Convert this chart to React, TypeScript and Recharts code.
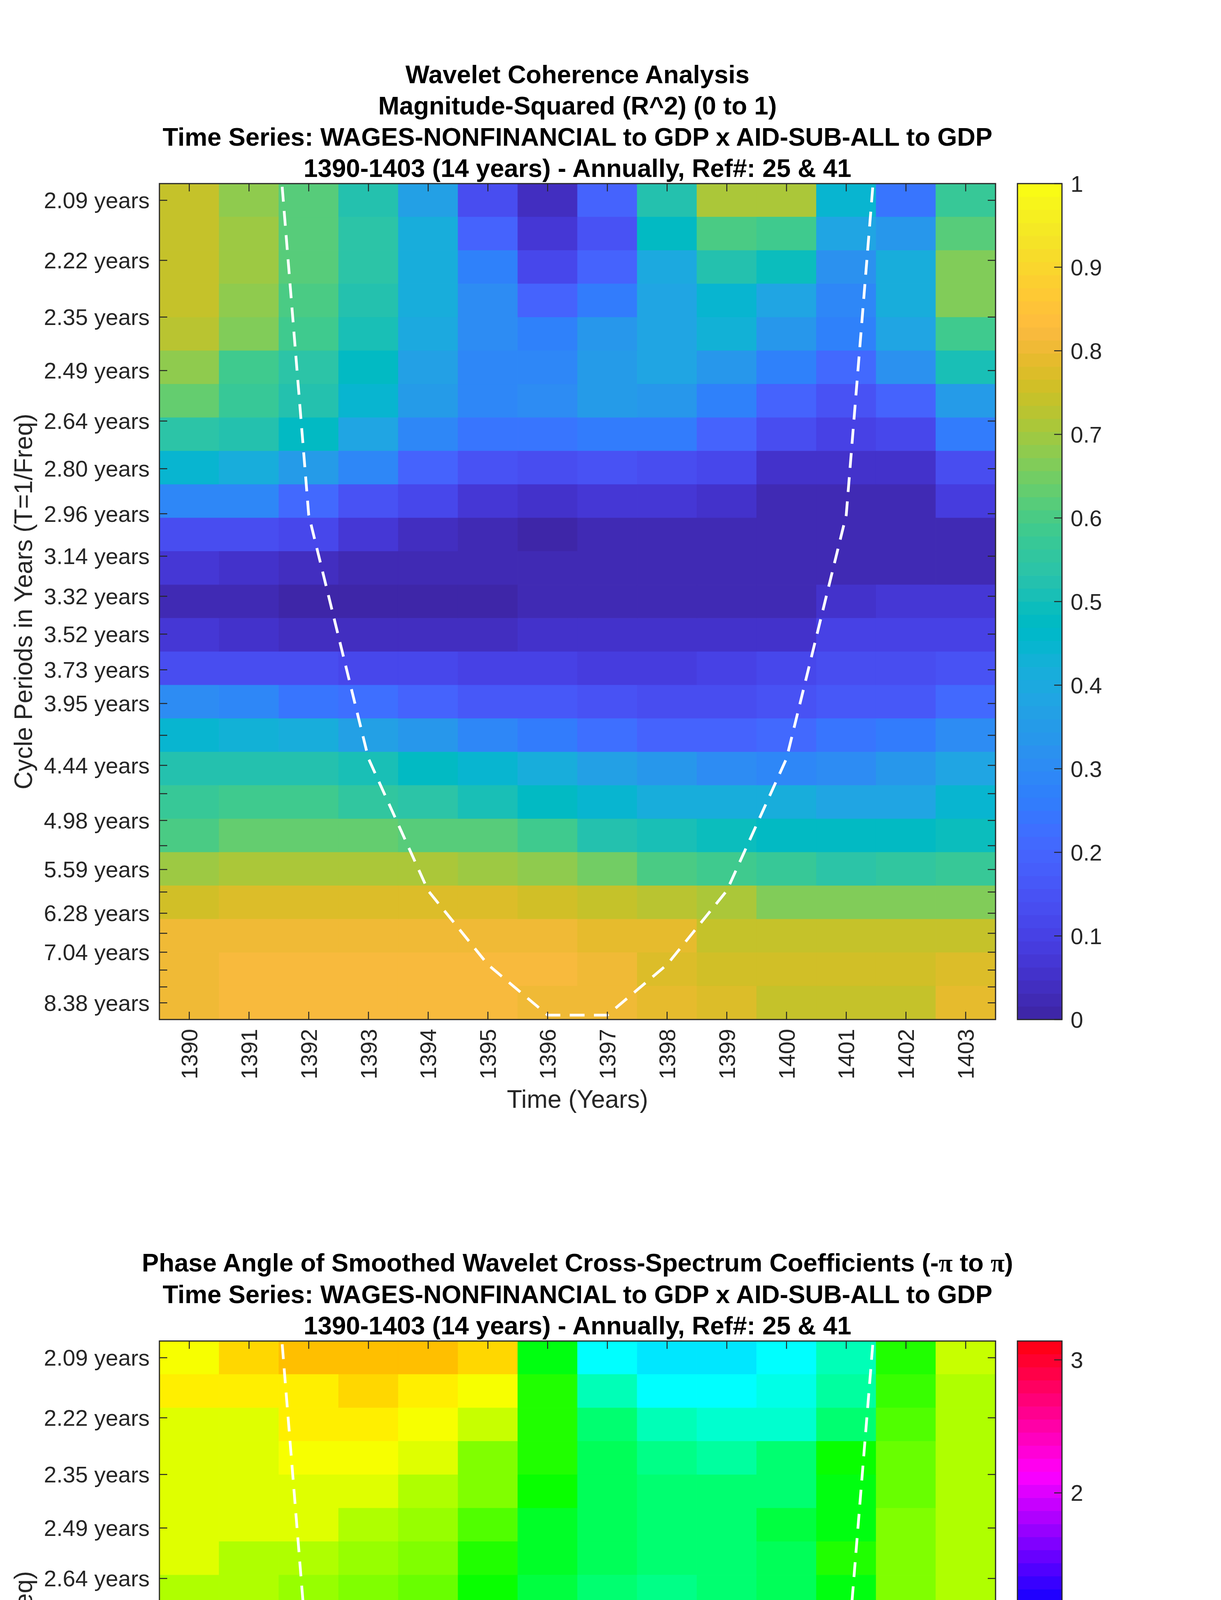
import React from 'react';
import { ComposedChart, XAxis, YAxis, Line, ReferenceArea } from 'recharts';

// ---- data ----
const years = [1390, 1391, 1392, 1393, 1394, 1395, 1396, 1397, 1398, 1399, 1400, 1401, 1402, 1403];

// wavelet scales (periods in years), top row first
const scalePeriods = [
  2.0942, 2.2187, 2.3507, 2.4905, 2.6385, 2.7954, 2.9617, 3.1378, 3.3243, 3.522, 3.7315, 3.9533, 4.1884,
  4.4375, 4.7013, 4.9809, 5.277, 5.5908, 5.9233, 6.2755, 6.6487, 7.0441, 7.4629, 7.9068, 8.3768,
];
const periodLabels = [
  '2.09 years', '2.22 years', '2.35 years', '2.49 years', '2.64 years', '2.80 years', '2.96 years', '3.14 years',
  '3.32 years', '3.52 years', '3.73 years', '3.95 years', '', '4.44 years', '', '4.98 years', '', '5.59 years', '',
  '6.28 years', '', '7.04 years', '', '', '8.38 years',
];

// magnitude-squared coherence, one row per scale (top to bottom), one value per year
const coherence = [
  [0.74, 0.685, 0.61, 0.53, 0.36, 0.14, 0.04, 0.2, 0.52, 0.71, 0.705, 0.44, 0.24, 0.57],
  [0.745, 0.69, 0.62, 0.54, 0.41, 0.2, 0.07, 0.15, 0.47, 0.6, 0.58, 0.38, 0.33, 0.61],
  [0.745, 0.69, 0.62, 0.54, 0.42, 0.27, 0.12, 0.2, 0.4, 0.52, 0.49, 0.32, 0.42, 0.665],
  [0.735, 0.685, 0.6, 0.53, 0.41, 0.3, 0.2, 0.26, 0.39, 0.44, 0.38, 0.29, 0.41, 0.665],
  [0.72, 0.665, 0.59, 0.5, 0.4, 0.3, 0.27, 0.34, 0.38, 0.43, 0.33, 0.27, 0.38, 0.58],
  [0.68, 0.59, 0.54, 0.47, 0.37, 0.29, 0.29, 0.35, 0.38, 0.34, 0.27, 0.21, 0.32, 0.5],
  [0.63, 0.57, 0.52, 0.45, 0.35, 0.29, 0.3, 0.35, 0.33, 0.27, 0.19, 0.15, 0.19, 0.35],
  [0.54, 0.52, 0.48, 0.38, 0.29, 0.24, 0.24, 0.26, 0.25, 0.19, 0.14, 0.1, 0.12, 0.25],
  [0.44, 0.42, 0.35, 0.29, 0.19, 0.15, 0.14, 0.15, 0.14, 0.11, 0.06, 0.05, 0.06, 0.14],
  [0.29, 0.29, 0.21, 0.15, 0.11, 0.07, 0.06, 0.065, 0.065, 0.05, 0.02, 0.02, 0.03, 0.08],
  [0.14, 0.14, 0.11, 0.07, 0.04, 0.03, 0.01, 0.03, 0.02, 0.02, 0.02, 0.02, 0.02, 0.03],
  [0.07, 0.05, 0.04, 0.02, 0.02, 0.02, 0.02, 0.02, 0.02, 0.02, 0.02, 0.03, 0.03, 0.03],
  [0.03, 0.02, 0.01, 0.01, 0.01, 0.01, 0.03, 0.03, 0.03, 0.03, 0.03, 0.05, 0.07, 0.07],
  [0.07, 0.05, 0.04, 0.04, 0.04, 0.04, 0.06, 0.06, 0.06, 0.06, 0.06, 0.1, 0.1, 0.1],
  [0.14, 0.14, 0.13, 0.12, 0.12, 0.1, 0.1, 0.09, 0.09, 0.1, 0.12, 0.13, 0.13, 0.15],
  [0.3, 0.29, 0.24, 0.22, 0.19, 0.17, 0.16, 0.15, 0.14, 0.14, 0.15, 0.16, 0.17, 0.21],
  [0.44, 0.43, 0.41, 0.37, 0.33, 0.29, 0.25, 0.22, 0.2, 0.2, 0.21, 0.24, 0.25, 0.3],
  [0.53, 0.53, 0.52, 0.5, 0.48, 0.45, 0.41, 0.37, 0.33, 0.3, 0.29, 0.3, 0.33, 0.39],
  [0.57, 0.59, 0.58, 0.56, 0.54, 0.51, 0.48, 0.45, 0.42, 0.41, 0.42, 0.39, 0.39, 0.44],
  [0.6, 0.63, 0.63, 0.63, 0.62, 0.61, 0.58, 0.53, 0.51, 0.49, 0.48, 0.48, 0.48, 0.49],
  [0.695, 0.71, 0.71, 0.71, 0.705, 0.695, 0.68, 0.645, 0.605, 0.585, 0.565, 0.54, 0.55, 0.575],
  [0.765, 0.77, 0.77, 0.77, 0.77, 0.77, 0.76, 0.745, 0.72, 0.715, 0.665, 0.665, 0.665, 0.67],
  [0.805, 0.81, 0.81, 0.81, 0.81, 0.805, 0.805, 0.795, 0.785, 0.735, 0.735, 0.735, 0.735, 0.74],
  [0.81, 0.825, 0.825, 0.825, 0.825, 0.815, 0.815, 0.805, 0.775, 0.765, 0.765, 0.75, 0.76, 0.775],
  [0.81, 0.825, 0.825, 0.825, 0.825, 0.815, 0.805, 0.8, 0.79, 0.77, 0.745, 0.745, 0.745, 0.785],
];

// phase angle (radians), same layout
const phase = [
  [-2.06, -2.22, -2.29, -2.29, -2.27, -2.16, -0.9, 0.0, 0.1, 0.1, 0.04, -0.23, -1.17, -1.83],
  [-2.09, -2.11, -2.11, -2.18, -2.08, -1.97, -1.17, -0.26, 0.0, 0.0, -0.09, -0.35, -1.2, -1.76],
  [-1.93, -1.93, -2.09, -2.09, -1.97, -1.78, -1.17, -0.5, -0.23, -0.1, -0.16, -0.56, -1.29, -1.75],
  [-1.95, -1.95, -1.99, -1.99, -1.87, -1.57, -1.15, -0.59, -0.44, -0.35, -0.5, -1.0, -1.42, -1.75],
  [-1.87, -1.87, -1.87, -1.87, -1.71, -1.5, -1.05, -0.64, -0.5, -0.5, -0.56, -0.92, -1.42, -1.75],
  [-1.87, -1.87, -1.87, -1.75, -1.62, -1.29, -0.84, -0.59, -0.56, -0.56, -0.72, -0.96, -1.57, -1.75],
  [-1.87, -1.71, -1.71, -1.62, -1.5, -1.17, -0.84, -0.59, -0.56, -0.56, -0.64, -1.13, -1.5, -1.75],
  [-1.75, -1.71, -1.62, -1.55, -1.38, -1.01, -0.72, -0.5, -0.44, -0.5, -0.64, -0.96, -1.5, -1.71],
  [-1.75, -1.62, -1.62, -1.45, -1.25, -0.96, -0.56, -0.35, -0.26, -0.35, -0.56, -1.17, -1.78, -1.9],
  [-1.75, -1.62, -1.55, -1.45, -1.25, -0.9, -0.35, -0.1, 0.0, -0.1, -0.5, -1.71, -2.08, -1.95],
  [-1.75, -1.62, -1.55, -1.45, -1.17, -0.68, 0.0, 0.38, 0.51, 0.63, 2.93, -2.81, -2.6, -2.36],
  [-2.07, -1.87, -1.78, -1.67, -1.2, 0.59, 1.17, 1.33, 1.54, 2.02, 2.93, 2.98, 3.1, -2.93],
  [-2.69, -2.6, -2.69, 3.09, 2.11, 1.83, 1.83, 1.83, 2.11, 2.6, 2.9, 2.9, 2.99, 2.99],
  [2.8, 2.8, 2.7, 2.4, 2.21, 2.11, 2.11, 2.21, 2.4, 2.5, 2.7, 2.8, 2.8, 2.8],
  [2.6, 2.5, 2.4, 2.31, 2.31, 2.21, 2.21, 2.31, 2.4, 2.5, 2.7, 2.8, 2.8, 2.6],
  [2.5, 2.31, 2.31, 2.31, 2.31, 2.31, 2.31, 2.4, 2.5, 2.6, 2.7, 2.7, 2.7, 2.7],
  [2.5, 2.5, 2.4, 2.4, 2.4, 2.4, 2.4, 2.5, 2.5, 2.6, 2.7, 2.7, 2.7, 2.7],
  [2.6, 2.5, 2.5, 2.5, 2.5, 2.5, 2.5, 2.6, 2.6, 2.6, 2.7, 2.7, 2.7, 2.6],
  [2.6, 2.6, 2.6, 2.6, 2.6, 2.6, 2.6, 2.7, 2.7, 2.7, 2.7, 2.7, 2.7, 2.7],
  [2.8, 2.8, 2.8, 2.8, 2.8, 2.8, 2.8, 2.8, 2.9, 2.9, 2.9, 2.9, 2.8, 2.8],
  [2.9, 2.8, 2.8, 2.8, 2.9, 2.9, 2.9, 2.9, 2.9, 2.9, 2.9, 2.9, 2.9, 2.8],
  [2.9, 2.9, 2.9, 2.9, 2.9, 2.99, 2.99, 2.99, 2.99, 2.99, 2.99, 2.99, 2.9, 2.9],
  [2.99, 2.99, 2.99, 2.99, 2.99, 2.99, 2.99, 2.99, 2.99, 2.99, 2.99, 2.99, 2.99, 2.99],
  [2.99, 2.99, 2.99, 2.99, 2.99, 2.99, 2.99, 2.99, 2.99, 3.09, 3.09, 3.09, 3.09, 2.99],
  [3.09, 3.09, 3.09, 3.09, 3.09, 3.09, 3.09, 3.09, 3.09, 3.09, 3.09, 3.09, 3.09, 3.09],
];

// cone of influence (period in years at each year)
const coiYears = [1391, 1392, 1393, 1394, 1395, 1396, 1397, 1398, 1399, 1400, 1401, 1402];
const coiPeriods = [1.5, 2.967, 4.378, 5.903, 7.33, 8.78, 8.78, 7.33, 5.903, 4.378, 2.967, 1.5];

const coherenceTicks = [0, 0.1, 0.2, 0.3, 0.4, 0.5, 0.6, 0.7, 0.8, 0.9, 1];
const phaseTicks = [-3, -2, -1, 0, 1, 2, 3];

const coherenceTitle = [
  'Wavelet Coherence Analysis',
  'Magnitude-Squared (R^2) (0 to 1)',
  'Time Series: WAGES-NONFINANCIAL to GDP x AID-SUB-ALL to GDP',
  '1390-1403 (14 years) - Annually, Ref#: 25 & 41',
];
const phaseTitle = [
  'PHASE',
  'Time Series: WAGES-NONFINANCIAL to GDP x AID-SUB-ALL to GDP',
  '1390-1403 (14 years) - Annually, Ref#: 25 & 41',
];

// ---- colormaps ----
const PARULA = [
  [0.2422, 0.1504, 0.6603], [0.2504, 0.165, 0.7076], [0.2578, 0.1818, 0.7511], [0.2647, 0.1978, 0.7952],
  [0.2706, 0.2147, 0.8364], [0.2751, 0.2342, 0.871], [0.2783, 0.2559, 0.8991], [0.2803, 0.2782, 0.9221],
  [0.2813, 0.3006, 0.9414], [0.281, 0.3228, 0.9579], [0.2795, 0.3447, 0.9717], [0.276, 0.3667, 0.9829],
  [0.2699, 0.3892, 0.9906], [0.2602, 0.4123, 0.9952], [0.244, 0.4358, 0.9988], [0.2206, 0.4603, 0.9973],
  [0.1963, 0.4847, 0.9892], [0.1834, 0.5074, 0.9798], [0.1786, 0.5289, 0.9682], [0.1764, 0.5499, 0.952],
  [0.1687, 0.5703, 0.9359], [0.154, 0.5902, 0.9218], [0.146, 0.6091, 0.9079], [0.138, 0.6276, 0.8973],
  [0.1248, 0.6459, 0.8883], [0.1113, 0.6635, 0.8763], [0.0952, 0.6798, 0.8598], [0.0689, 0.6948, 0.8394],
  [0.0297, 0.7082, 0.8163], [0.0036, 0.7203, 0.7917], [0.0067, 0.7312, 0.766], [0.0433, 0.7411, 0.7394],
  [0.0964, 0.75, 0.712], [0.1408, 0.7584, 0.6842], [0.1717, 0.767, 0.6554], [0.1938, 0.7758, 0.6251],
  [0.2161, 0.7843, 0.5923], [0.247, 0.7918, 0.5567], [0.2906, 0.7973, 0.5188], [0.3406, 0.8008, 0.4789],
  [0.3909, 0.8029, 0.4354], [0.4456, 0.8024, 0.3909], [0.5044, 0.7993, 0.348], [0.5616, 0.7942, 0.3045],
  [0.6174, 0.7876, 0.2612], [0.672, 0.7793, 0.2227], [0.7242, 0.7698, 0.191], [0.7738, 0.7598, 0.1646],
  [0.8203, 0.7498, 0.1535], [0.8634, 0.7406, 0.1596], [0.9035, 0.733, 0.1774], [0.9393, 0.7288, 0.21],
  [0.9728, 0.7298, 0.2394], [0.9956, 0.7434, 0.2371], [0.997, 0.7659, 0.2199], [0.9952, 0.7893, 0.2028],
  [0.9892, 0.8136, 0.1885], [0.9786, 0.8386, 0.1766], [0.9676, 0.8639, 0.1643], [0.961, 0.889, 0.1537],
  [0.9597, 0.9135, 0.1423], [0.9628, 0.9373, 0.1265], [0.9691, 0.9606, 0.1064], [0.9769, 0.9839, 0.0805],
];

const toRgb = (c: number[]) => `rgb(${c.map((v) => Math.round(v * 255)).join(',')})`;
const parula = (i: number) => toRgb(PARULA[i]);
const hsv = (i: number) => {
  const h = (i / 64) * 6;
  const k = Math.floor(h);
  const f = h - k;
  const rows = [[1, f, 0], [1 - f, 1, 0], [0, 1, f], [0, 1 - f, 1], [f, 0, 1], [1, 0, 1 - f]];
  return toRgb(rows[k % 6]);
};
const levelOf = (v: number, min: number, max: number) =>
  Math.max(0, Math.min(63, Math.floor(((v - min) / (max - min)) * 64)));

// ---- layout ----
const FONT = '"Liberation Sans", Arial, Helvetica, sans-serif';
const AXIS = '#262626';
const PLOT_LEFT = 408;
const PLOT_TOP = 470;
const PLOT_W = 2140;
const PLOT_H = 2140;
const TICK_LEN = 20;
const CBAR_LEFT = 2604;
const CBAR_W = 114;
const PANEL_STEP = 2963;

const fTop = 1 / scalePeriods[0];
const fBot = 1 / scalePeriods[scalePeriods.length - 1];
const fStep = (fTop - fBot) / (scalePeriods.length - 1);
const yDomain = [fBot - fStep / 2, fTop + fStep / 2];
const xDomain = [years[0] - 0.5, years[years.length - 1] + 0.5];
const freqTicks = scalePeriods.map((p) => 1 / p);
const coiData = coiYears.map((year, i) => ({ year, f: 1 / coiPeriods[i] }));

const YTick = ({ x, y, payload }: any) => {
  const label = periodLabels[freqTicks.indexOf(payload.value)] || '';
  return (
    <g>
      <line x1={x} x2={x + TICK_LEN} y1={y} y2={y} stroke={AXIS} strokeWidth={2.5} />
      <line x1={x + PLOT_W} x2={x + PLOT_W - TICK_LEN} y1={y} y2={y} stroke={AXIS} strokeWidth={2.5} />
      <text x={x - 25} y={y} textAnchor="end" dominantBaseline="central" fontSize={58} fontFamily={FONT} fill={AXIS}>
        {label}
      </text>
    </g>
  );
};

const XTick = ({ x, y, payload }: any) => (
  <g>
    <line x1={x} x2={x} y1={y} y2={y - TICK_LEN} stroke={AXIS} strokeWidth={2.5} />
    <line x1={x} x2={x} y1={y - PLOT_H} y2={y - PLOT_H + TICK_LEN} stroke={AXIS} strokeWidth={2.5} />
    <text
      x={0}
      y={0}
      transform={`translate(${x},${y + 24}) rotate(-90)`}
      textAnchor="end"
      dominantBaseline="central"
      fontSize={58}
      fontFamily={FONT}
      fill={AXIS}
    >
      {payload.value}
    </text>
  </g>
);

const CbarTick = ({ x, y, payload }: any) => (
  <g>
    <line x1={x} x2={x - TICK_LEN} y1={y} y2={y} stroke={AXIS} strokeWidth={2.5} />
    <text x={x + 22} y={y} textAnchor="start" dominantBaseline="central" fontSize={58} fontFamily={FONT} fill={AXIS}>
      {payload.value}
    </text>
  </g>
);

function Heatmap({ values, color }: { values: number[][]; color: (v: number) => string }) {
  const cells = values.flatMap((row, i) =>
    row.map((v, j) => {
      const fc = fTop - i * fStep;
      return { key: `${i}-${j}`, x1: years[j] - 0.5, x2: years[j] + 0.5, y1: fc - fStep / 2, y2: fc + fStep / 2, fill: color(v) };
    })
  );
  return (
    <ComposedChart
      width={PLOT_LEFT + PLOT_W + 40}
      height={PLOT_TOP + PLOT_H + 200}
      margin={{ top: PLOT_TOP, right: 40, bottom: 0, left: 0 }}
    >
      {cells.map((c) => (
        <ReferenceArea
          key={c.key}
          x1={c.x1}
          x2={c.x2}
          y1={c.y1}
          y2={c.y2}
          fill={c.fill}
          fillOpacity={1}
          stroke={c.fill}
          strokeWidth={1}
          ifOverflow="hidden"
        />
      ))}
      <Line
        data={coiData}
        dataKey="f"
        type="linear"
        stroke="#ffffff"
        strokeWidth={7}
        strokeDasharray="38 24"
        dot={false}
        activeDot={false}
        isAnimationActive={false}
      />
      <ReferenceArea
        x1={xDomain[0]}
        x2={xDomain[1]}
        y1={yDomain[0]}
        y2={yDomain[1]}
        fill="none"
        stroke={AXIS}
        strokeWidth={3}
        ifOverflow="visible"
      />
      <XAxis
        type="number"
        dataKey="year"
        domain={xDomain}
        ticks={years}
        interval={0}
        allowDataOverflow
        height={200}
        tickSize={0}
        tickMargin={0}
        axisLine={false}
        tick={<XTick />}
      />
      <YAxis
        type="number"
        domain={yDomain}
        ticks={freqTicks}
        interval={0}
        allowDataOverflow
        width={PLOT_LEFT}
        tickSize={0}
        tickMargin={0}
        axisLine={false}
        tick={<YTick />}
      />
    </ComposedChart>
  );
}

function Colorbar({ min, max, ticks, color }: { min: number; max: number; ticks: number[]; color: (i: number) => string }) {
  const bands = Array.from({ length: 64 }, (_, i) => ({
    y1: min + ((max - min) * i) / 64,
    y2: min + ((max - min) * (i + 1)) / 64,
    fill: color(i),
  }));
  return (
    <ComposedChart
      width={CBAR_LEFT + CBAR_W + 200}
      height={PLOT_TOP + PLOT_H + 80}
      margin={{ top: PLOT_TOP, right: 0, bottom: 80, left: CBAR_LEFT }}
      data={[{ x: 0 }, { x: 1 }]}
    >
      {bands.map((b, i) => (
        <ReferenceArea key={i} x1={0} x2={1} y1={b.y1} y2={b.y2} fill={b.fill} fillOpacity={1} stroke={b.fill} strokeWidth={1} ifOverflow="hidden" />
      ))}
      <ReferenceArea x1={0} x2={1} y1={min} y2={max} fill="none" stroke={AXIS} strokeWidth={3} ifOverflow="visible" />
      <XAxis type="number" dataKey="x" domain={[0, 1]} hide allowDataOverflow />
      <YAxis
        orientation="right"
        type="number"
        domain={[min, max]}
        ticks={ticks}
        interval={0}
        allowDataOverflow
        width={200}
        tickSize={0}
        tickMargin={0}
        axisLine={false}
        tick={<CbarTick />}
      />
    </ComposedChart>
  );
}

const centered = (left: number, top: number, extra: React.CSSProperties = {}): React.CSSProperties => ({
  position: 'absolute',
  left,
  top,
  transform: 'translate(-50%, -50%)',
  whiteSpace: 'nowrap',
  lineHeight: 1,
  ...extra,
});

const PI = <span style={{ fontFamily: '"Liberation Serif", "DejaVu Serif", serif' }}>π</span>;

function Panel({
  title,
  values,
  color,
  cmap,
  min,
  max,
  ticks,
}: {
  title: string[];
  values: number[][];
  color: (v: number) => string;
  cmap: (i: number) => string;
  min: number;
  max: number;
  ticks: number[];
}) {
  const cx = PLOT_LEFT + PLOT_W / 2;
  return (
    <div style={{ position: 'relative', width: 3125, height: PANEL_STEP }}>
      {title.map((t, i) => (
        <div key={i} style={centered(cx, 430 - (title.length - 1 - i) * 80, { fontSize: 65, fontWeight: 'bold', color: '#000' })}>
          {t === 'PHASE' ? <>Phase Angle of Smoothed Wavelet Cross-Spectrum Coefficients (-{PI} to {PI})</> : t}
        </div>
      ))}
      <div style={{ position: 'absolute', left: 0, top: 0 }}>
        <Heatmap values={values} color={color} />
      </div>
      <div style={{ position: 'absolute', left: 0, top: 0 }}>
        <Colorbar min={min} max={max} ticks={ticks} color={cmap} />
      </div>
      <div style={centered(60, PLOT_TOP + PLOT_H / 2, { fontSize: 64, color: AXIS, transform: 'translate(-50%, -50%) rotate(-90deg)' })}>
        Cycle Periods in Years (T=1/Freq)
      </div>
      <div style={centered(cx, PLOT_TOP + PLOT_H + 204, { fontSize: 64, color: AXIS })}>Time (Years)</div>
    </div>
  );
}

export default function App() {
  return (
    <div
      style={{
        position: 'relative',
        width: 3125,
        height: 6244,
        margin: '-8px 0 0 -8px',
        overflow: 'hidden',
        background: '#fff',
        fontFamily: FONT,
      }}
    >
      <Panel
        title={coherenceTitle}
        values={coherence}
        color={(v) => parula(levelOf(v, 0, 1))}
        cmap={parula}
        min={0}
        max={1}
        ticks={coherenceTicks}
      />
      <Panel
        title={phaseTitle}
        values={phase}
        color={(v) => hsv(levelOf(v, -Math.PI, Math.PI))}
        cmap={hsv}
        min={-Math.PI}
        max={Math.PI}
        ticks={phaseTicks}
      />
    </div>
  );
}
